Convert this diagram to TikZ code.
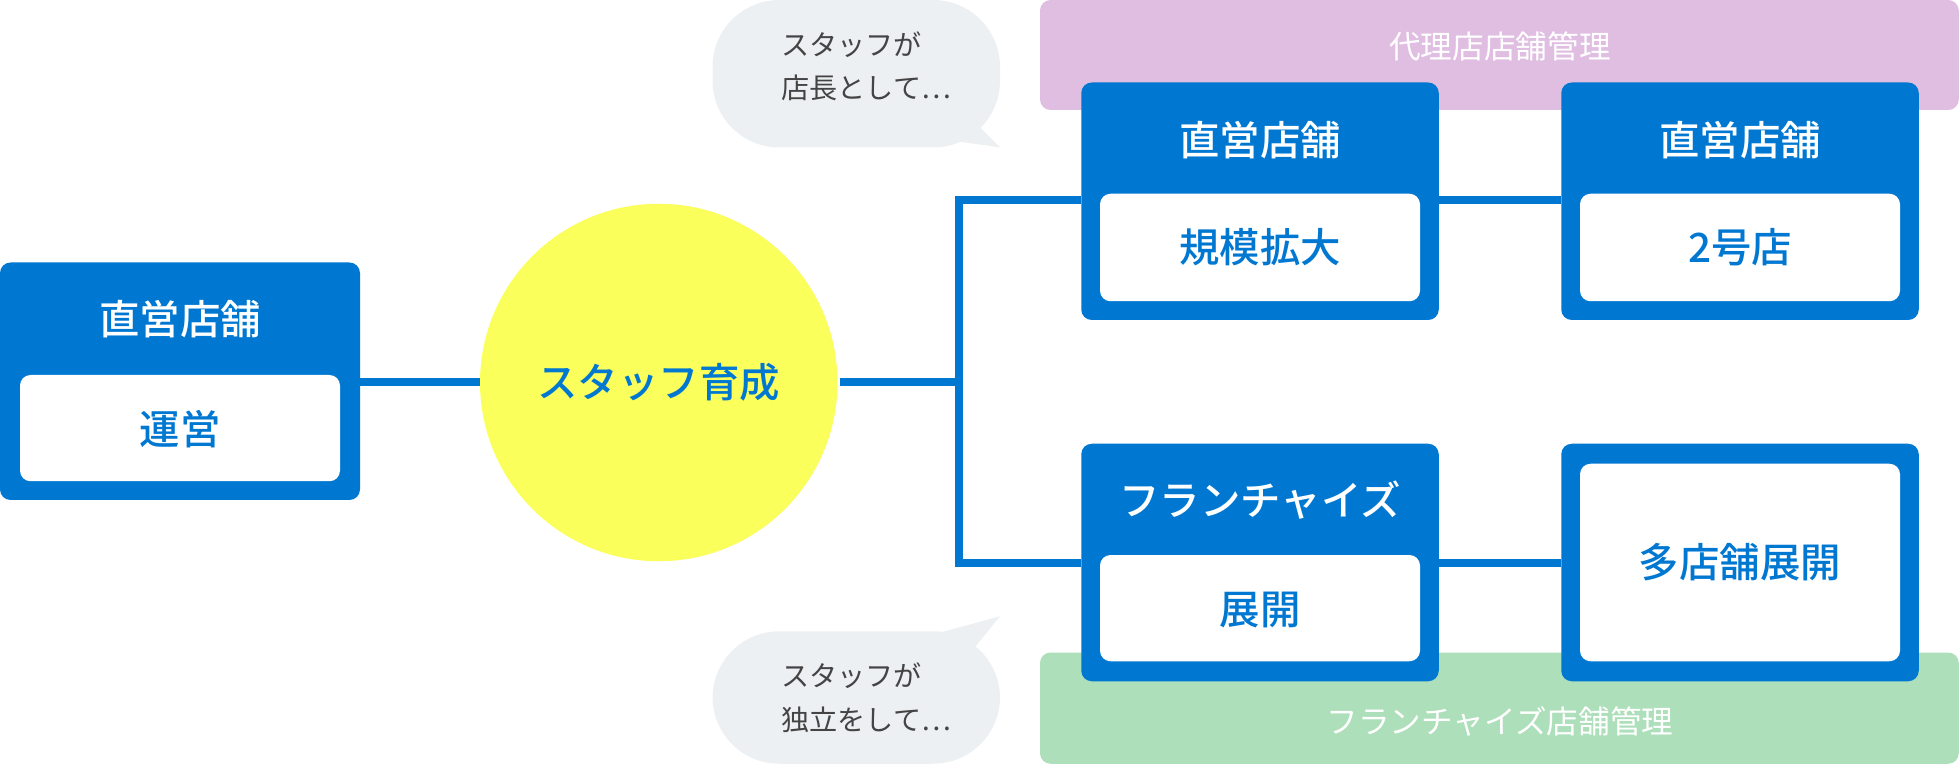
\documentclass[tikz,border=0pt]{standalone}
\usepackage{fontspec}
\setmainfont{Noto Sans CJK JP}[BoldFont={Noto Sans CJK JP Medium}]
\usetikzlibrary{positioning,calc}
\definecolor{shopblue}{HTML}{0078D2}
\definecolor{staffyellow}{HTML}{FAFF5C}
\definecolor{bandpurple}{HTML}{E0BEE2}
\definecolor{bandgreen}{HTML}{ACDFBA}
\definecolor{bubblegray}{HTML}{EDF0F2}
\definecolor{talkgray}{HTML}{444444}
\tikzset{
  shop/.style={fill=shopblue,rounded corners=6pt},
  inner/.style={fill=white,rounded corners=6pt},
  title/.style={text=white,font=\fontsize{23}{26}\selectfont\bfseries},
  label/.style={text=shopblue,font=\fontsize{23}{26}\selectfont\bfseries},
  band/.style={text=white,font=\fontsize{18}{21}\selectfont},
  talk/.style={text=talkgray,align=left,font=\fontsize{16}{25}\selectfont},
  link/.style={draw=shopblue,line width=1.6mm}
}
\begin{document}
\begin{tikzpicture}[x=0.25mm,y=-0.25mm]
   \useasboundingbox (0,0) rectangle (1568,611);
   % bands
   \fill[bandpurple,rounded corners=6pt] (832,0) rectangle (1567,88);
   \node[band] (bandtop) at (1200,37) {代理店店舗管理};
   \fill[bandgreen,rounded corners=6pt] (832,522) rectangle (1567,611);
   \node[band] (bandbot) at (1200,577) {フランチャイズ店舗管理};
   % bubbles
   \fill[bubblegray,rounded corners=38pt] (570,0) rectangle (800,118);
   \fill[bubblegray] (770,88) -- (800,118) -- (745,110) -- cycle;
   \node[talk] (talktop) at (693,53) {スタッフが\\店長として…};
   \fill[bubblegray,rounded corners=38pt] (570,505) rectangle (800,611);
   \fill[bubblegray] (745,508) -- (800,493) -- (770,530) -- cycle;
   \node[talk] (talkbot) at (693,558) {スタッフが\\独立をして…};
   % connectors
   \coordinate (jtop) at (767,160);
   \coordinate (jbot) at (767,450);
   \coordinate (jmid) at (767,306);
   \draw[link] (288,306) -- (384,306);
   \draw[link] (672,306) -- (jmid);
   \draw[link] (865,160) -- (jtop) -- (jbot) -- (865,450);
   \draw[link] (1151,160) -- (1249,160);
   \draw[link] (1151,450) -- (1249,450);
   % left shop
   \fill[shop] (0,210) rectangle (288,400);
   \fill[inner] (16,300) rectangle (272,385);
   \node[title] (lefttitle) at (144,255) {直営店舗};
   \node[label] (leftlabel) at (144,343) {運営};
   % staff
   \fill[staffyellow] (527,306) circle (143);
   \node[label] (staff) at (527,306) {スタッフ育成};
   % top right
   \fill[shop] (865,66) rectangle (1151,256);
   \fill[inner] (880,155) rectangle (1136,241);
   \node[title] (t1title) at (1008,112) {直営店舗};
   \node[label] (t1label) at (1008,198) {規模拡大};
   \fill[shop] (1249,66) rectangle (1535,256);
   \fill[inner] (1264,155) rectangle (1520,241);
   \node[title] (t2title) at (1392,112) {直営店舗};
   \node[label] (t2label) at (1392,198) {2号店};
   % bottom right
   \fill[shop] (865,355) rectangle (1151,545);
   \fill[inner] (880,444) rectangle (1136,529);
   \node[title] (b1title) at (1008,400) {フランチャイズ};
   \node[label] (b1label) at (1008,488) {展開};
   \fill[shop] (1249,355) rectangle (1535,545);
   \fill[inner] (1264,371) rectangle (1520,529);
   \node[label] (b2label) at (1392,450) {多店舗展開};
\end{tikzpicture}
\end{document}
